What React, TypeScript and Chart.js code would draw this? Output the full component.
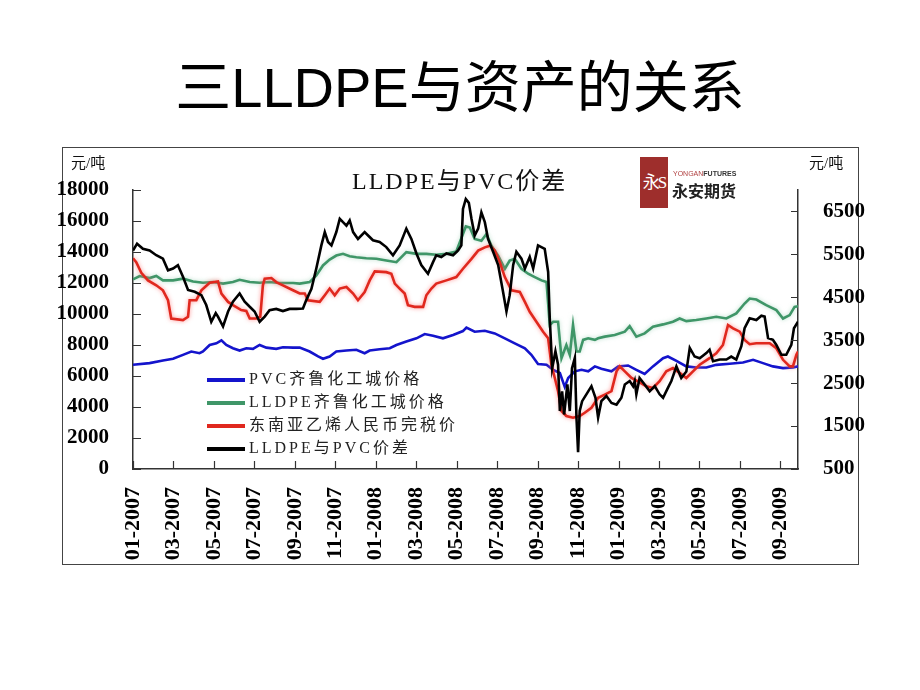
import React, { useEffect, useRef } from "react";
import { Chart, registerables } from "chart.js";

Chart.register(...registerables);

// ---------- data ----------
const xTickLabels = [
  "01-2007", "03-2007", "05-2007", "07-2007", "09-2007", "11-2007",
  "01-2008", "03-2008", "05-2008", "07-2008", "09-2008", "11-2008",
  "01-2009", "03-2009", "05-2009", "07-2009", "09-2009",
];

const leftTicks = [0, 2000, 4000, 6000, 8000, 10000, 12000, 14000, 16000, 18000];
const rightTicks = [500, 1500, 2500, 3500, 4500, 5500, 6500];
const rightAxisMax = 7000;
const lastMonth = 32.87; // months after Jan 2007

const seriesNames = [
  "PVC齐鲁化工城价格",
  "LLDPE齐鲁化工城价格",
  "东南亚乙烯人民币完税价",
  "LLDPE与PVC价差",
];

// PVC (left axis), x = months since Jan 2007
const pvcMonths = [0, 0.82, 1.48, 1.98, 2.47, 2.88, 3.29, 3.46, 3.79, 4.12, 4.37, 4.61, 4.94, 5.27, 5.6, 5.93, 6.26, 6.59, 7.08, 7.41, 7.91, 8.24, 8.73, 9.15, 9.39, 9.72, 10.05, 10.55, 11.04, 11.45, 11.7, 12.19, 12.69, 13.02, 13.51, 14.01, 14.42, 14.83, 15.32, 15.82, 16.31, 16.48, 16.89, 17.39, 17.88, 18.38, 18.87, 19.37, 19.69, 20.02, 20.44, 20.77, 21.1, 21.34, 21.51, 21.84, 22.17, 22.5, 22.83, 23.15, 23.65, 23.98, 24.47, 24.88, 25.29, 25.7, 26.2, 26.44, 26.86, 27.35, 27.84, 28.34, 28.83, 29.49, 30.15, 30.65, 31.14, 31.63, 32.13, 32.62, 32.87];
const pvcValues = [6725, 6830, 7000, 7110, 7365, 7580, 7470, 7580, 8000, 8110, 8300, 8000, 7790, 7640, 7790, 7750, 8000, 7830, 7750, 7850, 7830, 7835, 7580, 7260, 7110, 7260, 7580, 7640, 7690, 7470, 7640, 7730, 7790, 8000, 8220, 8430, 8710, 8600, 8430, 8650, 8900, 9120, 8860, 8920, 8750, 8430, 8110, 7790, 7365, 6770, 6725, 6400, 6190, 5300, 5870, 6300, 6400, 6300, 6620, 6470, 6300, 6620, 6680, 6400, 6130, 6620, 7150, 7260, 6980, 6620, 6550, 6550, 6720, 6790, 6870, 7045, 6830, 6620, 6510, 6550, 6620];

// LLDPE (left axis)
const lldpeMonths = [0, 0.33, 0.82, 1.15, 1.48, 1.98, 2.47, 2.97, 3.46, 3.95, 4.45, 4.94, 5.27, 5.77, 6.26, 6.75, 7.25, 7.91, 8.24, 8.73, 9.06, 9.39, 9.72, 10.05, 10.38, 10.71, 11.04, 11.53, 12.03, 12.52, 13.02, 13.51, 14.01, 14.5, 14.99, 15.49, 15.98, 16.31, 16.45, 16.65, 16.89, 17.22, 17.47, 17.72, 18.05, 18.38, 18.62, 18.87, 19.2, 19.53, 19.86, 20.19, 20.44, 20.6, 20.77, 21.01, 21.18, 21.42, 21.59, 21.75, 21.92, 22.08, 22.25, 22.5, 22.83, 22.99, 23.32, 23.81, 24.31, 24.55, 24.88, 25.29, 25.7, 26.2, 26.69, 27.02, 27.35, 27.84, 28.34, 28.83, 29.33, 29.82, 30.23, 30.48, 30.81, 31.3, 31.8, 32.13, 32.46, 32.7, 32.87];
const lldpeValues = [12230, 12450, 12320, 12450, 12170, 12170, 12280, 12100, 12020, 12060, 11960, 12060, 12210, 12060, 12020, 12060, 12000, 12000, 11960, 12060, 12490, 13130, 13510, 13770, 13880, 13730, 13660, 13600, 13560, 13450, 13340, 13990, 13880, 13880, 13820, 13880, 14030, 15160, 15650, 15580, 14840, 14730, 15160, 14410, 13770, 12920, 13450, 13560, 12920, 12600, 12380, 12170, 12060, 9290, 9500, 9500, 7150, 8000, 7365, 9290, 7580, 7580, 8330, 8430, 8330, 8430, 8540, 8650, 8860, 9220, 8540, 8750, 9180, 9330, 9500, 9710, 9540, 9610, 9710, 9820, 9710, 10035, 10675, 10995, 10930, 10570, 10250, 9710, 9930, 10460, 10500];

// SE Asia ethylene RMB tax-paid price (left axis)
const ethMonths = [0, 0.16, 0.41, 0.74, 1.15, 1.48, 1.73, 1.89, 2.47, 2.72, 2.8, 3.13, 3.38, 3.79, 4.2, 4.37, 4.7, 4.94, 5.35, 5.6, 5.77, 6.1, 6.29, 6.42, 6.51, 6.84, 7.08, 7.41, 7.91, 8.24, 8.49, 8.65, 9.23, 9.48, 9.72, 9.97, 10.22, 10.55, 10.88, 11.12, 11.45, 11.7, 11.95, 12.52, 12.77, 12.94, 13.18, 13.43, 13.59, 13.92, 14.34, 14.5, 14.75, 14.99, 15.49, 15.98, 16.31, 16.73, 17.06, 17.39, 17.64, 17.88, 18.13, 18.38, 18.71, 19.12, 19.37, 19.61, 19.94, 20.27, 20.52, 20.68, 20.85, 21.01, 21.18, 21.42, 21.75, 22.08, 22.33, 22.66, 22.99, 23.32, 23.65, 23.9, 24.06, 24.31, 24.64, 24.96, 25.37, 25.7, 26.03, 26.36, 26.69, 27.02, 27.35, 27.68, 28.01, 28.5, 28.83, 29.16, 29.41, 29.66, 29.99, 30.23, 30.48, 30.81, 31.14, 31.47, 31.8, 32.13, 32.46, 32.62, 32.79, 32.87];
const ethValues = [13600, 13340, 12660, 12170, 11850, 11530, 10890, 9710, 9610, 9820, 10890, 10890, 11530, 12020, 12100, 11320, 10780, 10570, 10250, 10200, 9710, 9710, 9820, 11850, 12280, 12320, 12060, 11850, 11530, 11320, 11320, 10890, 10780, 11210, 11640, 11210, 11640, 11740, 11320, 10890, 11420, 12170, 12750, 12700, 12600, 11960, 11640, 11320, 10570, 10460, 10460, 11210, 11640, 11960, 12170, 12380, 12920, 13560, 14090, 14300, 14410, 14090, 13340, 12380, 11530, 11420, 10780, 10140, 9500, 8860, 8430, 6725, 5870, 5020, 3740, 3420, 3310, 3420, 3630, 3950, 4590, 4800, 5020, 6300, 6620, 6300, 5870, 5660, 5340, 5230, 5660, 6300, 6510, 6200, 5870, 6300, 6725, 7150, 7470, 8000, 9290, 9070, 8860, 8330, 8050, 8110, 8110, 8110, 7790, 7045, 6620, 6620, 7365, 7580];

// LLDPE - PVC spread (right axis)
const spreadMonths = [0, 0.2, 0.49, 0.82, 1.15, 1.48, 1.73, 1.98, 2.22, 2.47, 2.72, 3.05, 3.38, 3.62, 3.87, 4.09, 4.2, 4.45, 4.7, 4.94, 5.27, 5.52, 5.77, 6.01, 6.26, 6.51, 6.75, 7.08, 7.41, 7.74, 8.07, 8.4, 8.57, 8.82, 9.06, 9.31, 9.48, 9.64, 9.81, 10.05, 10.22, 10.38, 10.55, 10.71, 10.88, 11.12, 11.45, 11.62, 11.86, 12.19, 12.52, 12.85, 13.18, 13.51, 13.76, 14.01, 14.25, 14.58, 14.83, 14.99, 15.24, 15.49, 15.82, 16.07, 16.23, 16.31, 16.45, 16.6, 16.73, 16.89, 17.06, 17.22, 17.39, 17.55, 17.8, 18.05, 18.29, 18.46, 18.62, 18.79, 18.95, 19.2, 19.37, 19.61, 19.78, 20.02, 20.35, 20.52, 20.6, 20.72, 20.88, 21.01, 21.1, 21.21, 21.31, 21.47, 21.59, 21.7, 21.84, 21.92, 22.0, 22.08, 22.2, 22.41, 22.66, 22.86, 22.99, 23.15, 23.4, 23.65, 23.9, 24.14, 24.31, 24.55, 24.72, 24.8, 24.88, 25.04, 25.29, 25.54, 25.79, 26.03, 26.2, 26.44, 26.61, 26.86, 27.1, 27.35, 27.52, 27.76, 28.01, 28.34, 28.5, 28.67, 29.0, 29.33, 29.57, 29.82, 30.07, 30.23, 30.48, 30.81, 31.06, 31.22, 31.39, 31.63, 31.8, 32.05, 32.29, 32.54, 32.67, 32.87];
const spreadValues = [5590, 5750, 5630, 5590, 5480, 5400, 5130, 5170, 5250, 4980, 4670, 4630, 4550, 4320, 3930, 4130, 4050, 3820, 4170, 4400, 4590, 4400, 4280, 4170, 3930, 4050, 4200, 4230, 4180, 4230, 4230, 4240, 4440, 4700, 5170, 5710, 6020, 5790, 5710, 6020, 6330, 6250, 6170, 6290, 6020, 5860, 6020, 5940, 5830, 5790, 5670, 5480, 5710, 6100, 5860, 5520, 5250, 5050, 5320, 5480, 5440, 5520, 5480, 5590, 5710, 6560, 6790, 6700, 6330, 5940, 6100, 6480, 6250, 5860, 5560, 5250, 4630, 4170, 4550, 5250, 5560, 5400, 5170, 5440, 5170, 5710, 5630, 5090, 4010, 2850, 3240, 2930, 1850, 2310, 1770, 2470, 1850, 2850, 3090, 1700, 890, 1850, 2080, 2240, 2430, 2160, 1700, 2080, 2200, 2040, 2000, 2160, 2470, 2550, 2430, 2550, 2240, 2620, 2470, 2310, 2430, 2240, 2160, 2390, 2550, 2890, 2620, 2770, 3320, 3120, 3080, 3200, 3280, 3010, 3050, 3050, 3120, 3050, 3360, 3780, 4010, 3970, 4070, 4050, 3550, 3510, 3390, 3160, 3160, 3390, 3780, 3930];

// ---------- styles ----------
const seriesColors = ["#1414CC", "#3F9668", "#E0281E", "#000000"];
const serif = '"Liberation Serif", "Noto Sans CJK SC", serif';

const toPoints = (xs: number[], ys: number[]) =>
  xs.slice(0, Math.min(xs.length, ys.length)).map((x, i) => ({ x, y: ys[i] }));

const glowPlugin = {
  id: "redGlow",
  beforeDatasetDraw(chart: any, args: any) {
    if (args.index === 2 || args.index === 1) {
      const ctx = chart.ctx;
      ctx.save();
      ctx.shadowColor = args.index === 2 ? "rgba(255,110,110,0.75)" : "rgba(140,200,170,0.6)";
      ctx.shadowBlur = 4;
    }
  },
  afterDatasetDraw(chart: any, args: any) {
    if (args.index === 2 || args.index === 1) chart.ctx.restore();
  },
};

const decorPlugin = {
  id: "decor",
  afterDraw(chart: any) {
    const ctx = chart.ctx as CanvasRenderingContext2D;
    const { left, right, bottom } = chart.chartArea;
    const sy = chart.scales.y;
    const sy1 = chart.scales.y1;
    const sx = chart.scales.x;
    ctx.save();
    // inward tick marks
    ctx.strokeStyle = "#333";
    ctx.lineWidth = 1.2;
    ctx.beginPath();
    sy.ticks.forEach((t: any) => {
      const p = Math.round(sy.getPixelForValue(t.value)) + 0.5;
      ctx.moveTo(left, p);
      ctx.lineTo(left + 8, p);
    });
    sy1.ticks.forEach((t: any) => {
      const p = Math.round(sy1.getPixelForValue(t.value)) + 0.5;
      ctx.moveTo(right, p);
      ctx.lineTo(right - 7, p);
    });
    sx.ticks.forEach((t: any) => {
      const p = Math.round(sx.getPixelForValue(t.value)) + 0.5;
      ctx.moveTo(p, bottom);
      ctx.lineTo(p, bottom - 8);
    });
    ctx.stroke();

    // units
    ctx.fillStyle = "#111";
    ctx.font = `15px ${serif}`;
    ctx.textBaseline = "middle";
    ctx.textAlign = "left";
    ctx.fillText("元/吨", 71, 164);
    ctx.fillText("元/吨", 809, 164);

    // chart title
    ctx.font = `24px ${serif}`;
    (ctx as any).letterSpacing = "2px";
    ctx.fillStyle = "#111";
    ctx.fillText(seriesNames[3], 352, 183);

    // legend
    ctx.font = `16px ${serif}`;
    (ctx as any).letterSpacing = "3px";
    const rowY = [380, 403, 426, 449];
    seriesNames.forEach((name, i) => {
      ctx.strokeStyle = seriesColors[i];
      ctx.lineWidth = 4;
      ctx.beginPath();
      ctx.moveTo(207, rowY[i]);
      ctx.lineTo(245, rowY[i]);
      ctx.stroke();
      ctx.fillStyle = "#222";
      ctx.fillText(name, 249, rowY[i]);
    });
    ctx.restore();
  },
};

export default function App() {
  const canvasRef = useRef<HTMLCanvasElement>(null);

  useEffect(() => {
    const canvas = canvasRef.current;
    if (!canvas) return;
    const tickFont = { family: serif, size: 21, weight: "bold" as const };
    const chart = new Chart(canvas, {
      type: "line",
      data: {
        datasets: [
          { label: seriesNames[0], data: toPoints(pvcMonths, pvcValues), borderColor: seriesColors[0], yAxisID: "y", order: 3 },
          { label: seriesNames[1], data: toPoints(lldpeMonths, lldpeValues), borderColor: seriesColors[1], yAxisID: "y", order: 2 },
          { label: seriesNames[2], data: toPoints(ethMonths, ethValues), borderColor: seriesColors[2], yAxisID: "y", order: 1 },
          { label: seriesNames[3], data: toPoints(spreadMonths, spreadValues), borderColor: seriesColors[3], yAxisID: "y1", order: 0 },
        ],
      },
      options: {
        responsive: false,
        animation: false,
        layout: { padding: { top: 190, left: 0, right: 0, bottom: 0 } },
        elements: {
          point: { radius: 0 },
          line: { tension: 0, borderWidth: 2.6, fill: false },
        },
        plugins: {
          legend: { display: false },
          tooltip: { enabled: false },
          title: { display: false },
        },
        scales: {
          x: {
            type: "linear",
            min: 0,
            max: lastMonth,
            afterFit: (s: any) => { s.height = 221; },
            afterBuildTicks: (s: any) => {
              s.ticks = xTickLabels.map((_, i) => ({ value: i * 2 }));
            },
            grid: { display: false },
            border: { display: true, color: "#333", width: 1.5 },
            ticks: {
              autoSkip: false,
              minRotation: 90,
              maxRotation: 90,
              padding: 10,
              color: "#000",
              font: { family: serif, size: 22, weight: "bold" },
              callback: (v: any) => xTickLabels[Math.round(Number(v) / 2)] ?? "",
            },
          },
          y: {
            position: "left",
            min: leftTicks[0],
            max: leftTicks[leftTicks.length - 1],
            afterFit: (s: any) => { s.width = 133; },
            afterBuildTicks: (s: any) => {
              s.ticks = leftTicks.map((v) => ({ value: v }));
            },
            grid: { display: false },
            border: { display: true, color: "#333", width: 1.5 },
            ticks: { autoSkip: false, padding: 16, color: "#000", font: tickFont, callback: (v: any) => String(v) },
          },
          y1: {
            position: "right",
            min: rightTicks[0],
            max: rightAxisMax,
            afterFit: (s: any) => { s.width = 122; },
            afterBuildTicks: (s: any) => {
              s.ticks = rightTicks.map((v) => ({ value: v }));
            },
            grid: { display: false },
            border: { display: true, color: "#333", width: 1.5 },
            ticks: { autoSkip: false, padding: 17, color: "#000", font: tickFont, callback: (v: any) => String(v) },
          },
        },
      },
      plugins: [glowPlugin, decorPlugin],
    });
    return () => chart.destroy();
  }, []);

  return (
    <div style={{ position: "absolute", left: 0, top: 0, width: 920, height: 690, background: "#fff", overflow: "hidden" }}>
      <div
        style={{
          position: "absolute",
          left: 0,
          top: 57,
          width: 920,
          textAlign: "center",
          fontFamily: '"Liberation Sans", "Noto Sans CJK SC", sans-serif',
          fontSize: 56,
          lineHeight: "62px",
          color: "#000",
        }}
      >
        三LLDPE与资产的关系
      </div>
      <div
        style={{
          position: "absolute",
          left: 62,
          top: 147,
          width: 795,
          height: 416,
          border: "1px solid #444",
        }}
      />
      <canvas
        ref={canvasRef}
        width={920}
        height={690}
        style={{ position: "absolute", left: 0, top: 0, width: 920, height: 690 }}
      />
      <div
        style={{
          position: "absolute",
          left: 640,
          top: 157,
          width: 28,
          height: 51,
          background: "#9E2E2C",
          color: "#fff",
          fontFamily: serif,
          fontSize: 17,
          lineHeight: "51px",
          textAlign: "center",
          letterSpacing: -2,
        }}
      >
        永S
      </div>
      <div
        style={{
          position: "absolute",
          left: 673,
          top: 170,
          fontFamily: '"Liberation Sans", sans-serif',
          fontSize: 7,
          lineHeight: "8px",
          color: "#333",
          whiteSpace: "nowrap",
        }}
      >
        <span style={{ color: "#B04040" }}>YONGAN</span>
        <b>FUTURES</b>
      </div>
      <div
        style={{
          position: "absolute",
          left: 672,
          top: 180,
          fontFamily: '"Noto Sans CJK SC", sans-serif',
          fontWeight: 700,
          fontSize: 16,
          lineHeight: "20px",
          color: "#222",
          whiteSpace: "nowrap",
        }}
      >
        永安期货
      </div>
    </div>
  );
}
